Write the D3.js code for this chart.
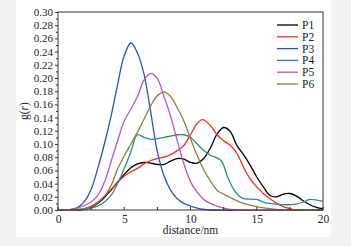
<!DOCTYPE html>
<html>
<head>
<meta charset="utf-8">
<script src="https://cdn.jsdelivr.net/npm/d3@7"></script>
<style>
  body { margin: 0; background: #f3f3f3; overflow: hidden; }
  text { font-family: "Liberation Serif", "DejaVu Serif", serif; fill: #222; }
</style>
</head>
<body>
<script>
//Data: [distance (nm), g(r)]
var p1 = [[0,0],[1.5,0],[2,0.001],[2.5,0.004],[3,0.01],[3.5,0.019],[4,0.03],[4.5,0.042],[5,0.054],[5.5,0.064],[6,0.07],[6.5,0.072],[7,0.071],[7.5,0.069],[8,0.069],[8.5,0.074],[9,0.078],[9.5,0.077],[10,0.072],[10.5,0.071],[11,0.078],[11.5,0.094],[12,0.115],[12.5,0.125],[13,0.119],[13.5,0.098],[14,0.084],[14.5,0.068],[15,0.05],[15.5,0.035],[16,0.022],[16.5,0.02],[17,0.024],[17.5,0.025],[18,0.021],[18.5,0.014],[19,0.008],[19.5,0.004],[20,0.002]];
var p2 = [[0,0],[1.5,0],[2,0.002],[2.5,0.006],[3,0.012],[3.5,0.021],[4,0.031],[4.5,0.042],[5,0.051],[5.5,0.058],[6,0.063],[6.5,0.07],[7,0.075],[7.5,0.078],[8,0.08],[8.5,0.084],[9,0.09],[9.5,0.098],[10,0.114],[10.5,0.131],[10.9,0.137],[11.5,0.128],[12,0.114],[12.5,0.105],[13,0.098],[13.5,0.086],[14,0.065],[14.5,0.047],[15,0.035],[15.5,0.025],[16,0.017],[16.5,0.01],[17,0.005],[17.5,0.002],[18,0],[20,0]];
var p3 = [[0,0],[0.5,0],[1,0.001],[1.5,0.004],[2,0.013],[2.5,0.031],[3,0.063],[3.5,0.1],[4,0.142],[4.5,0.19],[5,0.234],[5.5,0.253],[6,0.238],[6.5,0.205],[7,0.148],[7.5,0.088],[8,0.052],[8.5,0.03],[9,0.017],[9.5,0.01],[10,0.006],[10.5,0.003],[11,0.001],[11.5,0],[20,0]];
var p4 = [[0,0],[1,0],[2,0.001],[2.5,0.003],[3,0.006],[3.5,0.012],[4,0.022],[4.5,0.04],[5,0.063],[5.5,0.088],[6,0.114],[6.5,0.11],[7,0.107],[7.5,0.108],[8,0.11],[8.5,0.112],[9,0.114],[9.5,0.114],[10,0.11],[10.5,0.1],[11,0.09],[11.5,0.083],[12.3,0.075],[12.8,0.05],[13.3,0.03],[13.9,0.018],[15,0.016],[15.5,0.012],[16,0.01],[17,0.008],[18,0.009],[18.5,0.012],[19,0.016],[20,0.013]];
var p5 = [[0,0],[0.5,0],[1,0.001],[1.5,0.003],[2,0.007],[2.5,0.012],[3,0.022],[3.5,0.042],[4,0.073],[4.5,0.105],[5,0.135],[5.5,0.153],[6,0.172],[6.5,0.197],[7,0.207],[7.5,0.199],[8,0.172],[8.5,0.142],[9,0.105],[9.5,0.07],[10,0.043],[10.5,0.027],[11,0.016],[11.5,0.01],[12,0.006],[12.5,0.003],[13,0.001],[13.5,0],[20,0]];
var p6 = [[0,0],[1,0],[1.5,0.001],[2,0.002],[2.5,0.005],[3,0.011],[3.5,0.021],[4,0.037],[4.5,0.062],[5,0.082],[5.5,0.1],[6,0.118],[6.5,0.138],[7,0.158],[7.5,0.173],[8,0.179],[8.5,0.172],[9,0.155],[9.5,0.135],[10,0.108],[10.5,0.083],[11,0.061],[11.5,0.044],[12,0.03],[12.5,0.024],[13,0.019],[13.5,0.014],[14,0.01],[15,0.005],[16,0.002],[17,0],[20,0]];

var names = ["P1", "P2", "P3", "P4", "P5", "P6"];
var series = [p1, p2, p3, p4, p5, p6];
var xTicks = [0, 5, 10, 15, 20];
var yTicks = [0, 0.02, 0.04, 0.06, 0.08, 0.10, 0.12, 0.14, 0.16, 0.18, 0.20, 0.22, 0.24, 0.26, 0.28, 0.30];

//Styles
var colors = ["#000000", "#ff2a1a", "#2f4fc4", "#2a8c8a", "#b455c8", "#8c8040"];
var w = 351, h = 246;
var plotLeft = 58, plotTop = 12, plotRight = 323, plotBottom = 210;
var fontSize = "11px";

var svg = d3.select("body").append("svg")
    .attr("width", w)
    .attr("height", h);

//White figure area
svg.append("rect")
    .attr("x", 16).attr("y", 0)
    .attr("width", 315).attr("height", 237)
    .attr("fill", "white");

var x = d3.scaleLinear().domain([0, 20]).range([plotLeft, plotRight]);
var y = d3.scaleLinear().domain([0, 0.30]).range([plotBottom, plotTop]);

//Curves
var line = d3.line()
    .x(function (d) { return x(d[0]); })
    .y(function (d) { return y(d[1]); })
    .curve(d3.curveCatmullRom);

series.forEach(function (s, i) {
    svg.append("path")
        .attr("d", line(s))
        .attr("fill", "none")
        .attr("stroke", colors[i])
        .attr("stroke-width", 1.3);
});

//Frame
svg.append("rect")
    .attr("x", plotLeft).attr("y", plotTop)
    .attr("width", plotRight - plotLeft).attr("height", plotBottom - plotTop)
    .attr("fill", "none")
    .attr("stroke", "#333")
    .attr("stroke-width", 1);

//Y axis: ticks outward
var yAxis = d3.axisLeft(y)
    .tickValues(yTicks)
    .tickFormat(d3.format(".2f"))
    .tickSize(3)
    .tickPadding(2);
var gy = svg.append("g")
    .attr("transform", "translate(" + plotLeft + ",0)")
    .call(yAxis);
gy.select(".domain").remove();
gy.selectAll("text").style("font-size", fontSize).style("font-family", "Liberation Serif").attr("fill", "#222");
gy.selectAll("line").attr("stroke", "#333");

var gyMinor = svg.append("g")
    .attr("transform", "translate(" + plotLeft + ",0)")
    .call(d3.axisLeft(y).tickValues(d3.range(0.01, 0.30, 0.02)).tickSize(2).tickFormat(""));
gyMinor.select(".domain").remove();
gyMinor.selectAll("line").attr("stroke", "#333");

//X axis: ticks inward
var gx = svg.append("g")
    .attr("transform", "translate(0," + plotBottom + ")")
    .call(d3.axisBottom(x).tickValues(xTicks).tickFormat(d3.format("d")).tickSize(0).tickPadding(5));
gx.select(".domain").remove();
gx.selectAll("text").style("font-size", "11.5px").style("font-family", "Liberation Serif").attr("fill", "#222");

svg.append("g")
    .selectAll("line")
    .data(d3.range(0, 20.1, 2.5))
    .join("line")
    .attr("x1", function (d) { return x(d); })
    .attr("x2", function (d) { return x(d); })
    .attr("y1", plotBottom)
    .attr("y2", plotBottom - 3)
    .attr("stroke", "#333");

//Axis titles
svg.append("text")
    .attr("x", (plotLeft + plotRight) / 2)
    .attr("y", 234)
    .attr("text-anchor", "middle")
    .style("font-size", "11.5px")
    .text("distance/nm");

var yt = svg.append("text")
    .attr("transform", "translate(28," + ((plotTop + plotBottom) / 2) + ") rotate(-90)")
    .attr("text-anchor", "middle")
    .style("font-size", "11.5px");
yt.append("tspan").text("g(");
yt.append("tspan").style("font-style", "italic").text("r");
yt.append("tspan").text(")");

//Legend
var legend = svg.append("g");
names.forEach(function (n, i) {
    var ly = 25 + i * 11.8;
    legend.append("line")
        .attr("x1", 277).attr("x2", 298)
        .attr("y1", ly).attr("y2", ly)
        .attr("stroke", colors[i])
        .attr("stroke-width", 1.3);
    legend.append("text")
        .attr("x", 302)
        .attr("y", ly + 4)
        .style("font-size", "11.5px")
        .text(n);
});
</script>
</body>
</html>
